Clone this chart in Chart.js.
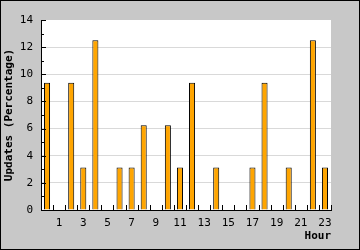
<!DOCTYPE html>
<html>
<head>
<meta charset="utf-8">
<script src="https://cdn.jsdelivr.net/npm/chart.js@4/dist/chart.umd.min.js"></script>
<style>
  html, body { margin: 0; padding: 0; background: #c8c8c8; }
  #wrap { width: 360px; height: 250px; }
</style>
</head>
<body>
<div id="wrap"><canvas id="c" width="360" height="250"></canvas></div>
<script>
  // data
  var hours = ['0','1','2','3','4','5','6','7','8','9','10','11',
               '12','13','14','15','16','17','18','19','20','21','22','23'];
  var updates = [9.375, 0, 9.375, 3.125, 12.5, 0, 3.125, 3.125, 6.25, 0, 6.25, 3.125,
                 9.375, 0, 3.125, 0, 0, 3.125, 9.375, 0, 3.125, 0, 12.5, 3.125];
  var yMax = 14;

  var MONO = "'DejaVu Sans Mono', monospace";

  /* gray frame, white plot area, black outline */
  var frame = {
    id: 'frame',
    beforeDraw: function (chart) {
      var c = chart.ctx, a = chart.chartArea;
      c.save();
      c.fillStyle = '#c8c8c8';
      c.fillRect(0, 0, chart.width, chart.height);
      c.fillStyle = '#ffffff';
      c.fillRect(a.left, a.top, a.right - a.left, a.bottom - a.top);
      c.strokeStyle = '#000';
      c.lineWidth = 1;
      c.strokeRect(0.5, 0.5, chart.width - 1, chart.height - 1);
      c.restore();
    }
  };

  /* tick marks point into the plot */
  var innerTicks = {
    id: 'innerTicks',
    afterDatasetsDraw: function (chart) {
      var c = chart.ctx, a = chart.chartArea;
      var xs = chart.scales.x, ys = chart.scales.y;
      c.save();
      c.strokeStyle = '#000';
      c.lineWidth = 1;
      c.beginPath();
      for (var v = 0; v <= yMax; v++) {
        var py = Math.round(ys.getPixelForValue(v)) + 0.5;
        c.moveTo(a.left, py);
        c.lineTo(a.left + (v % 2 === 0 ? 5 : 3), py);
      }
      var slot = xs.getPixelForValue(1) - xs.getPixelForValue(0);
      for (var i = 0; i <= hours.length; i++) {
        var px = Math.round(xs.getPixelForValue(i) - slot / 2) + 0.5;
        c.moveTo(px, a.bottom);
        c.lineTo(px, a.bottom - 5);
      }
      c.stroke();
      c.restore();
    }
  };

  new Chart(document.getElementById('c'), {
    type: 'bar',
    data: {
      labels: hours,
      datasets: [{
        data: updates,
        backgroundColor: '#ffa500',
        borderColor: '#000000',
        borderWidth: 1,
        barPercentage: 0.5,
        categoryPercentage: 1
      }]
    },
    options: {
      responsive: false,
      animation: false,
      events: [],
      layout: { padding: { top: 20, right: 29, left: 0, bottom: 0 } },
      plugins: { legend: { display: false }, tooltip: { enabled: false } },
      scales: {
        x: {
          offset: true,
          afterFit: function (s) { s.height = 40; },
          grid: { display: false, drawTicks: false },
          border: { display: true, color: '#000', width: 1 },
          ticks: {
            autoSkip: false, maxRotation: 0, padding: 7,
            color: '#000', font: { family: MONO, size: 11 },
            callback: function (val, idx) { return idx % 2 === 1 ? hours[idx] : ''; }
          },
          title: {
            display: true, text: 'Hour', align: 'end', color: '#000',
            font: { family: MONO, size: 11, weight: 'bold' },
            padding: { top: 0, bottom: 7 }
          }
        },
        y: {
          min: 0, max: yMax,
          afterFit: function (s) { s.width = 41; },
          grid: {
            drawTicks: false,
            color: function (ctx) {
              var v = ctx.tick && ctx.tick.value;
              return (v % 2 === 0 && v > 0 && v < yMax) ? '#d9d9d9' : 'rgba(0,0,0,0)';
            }
          },
          border: { display: true, color: '#000', width: 1 },
          ticks: {
            stepSize: 1, autoSkip: false, padding: 8,
            color: '#000', font: { family: MONO, size: 11 },
            callback: function (v) { return v % 2 === 0 ? v : ''; }
          },
          title: {
            display: true, text: 'Updates (Percentage)', color: '#000',
            font: { family: MONO, size: 11, weight: 'bold' },
            padding: { top: 3, bottom: 0 }
          }
        }
      }
    },
    plugins: [frame, innerTicks]
  });
</script>
</body>
</html>
